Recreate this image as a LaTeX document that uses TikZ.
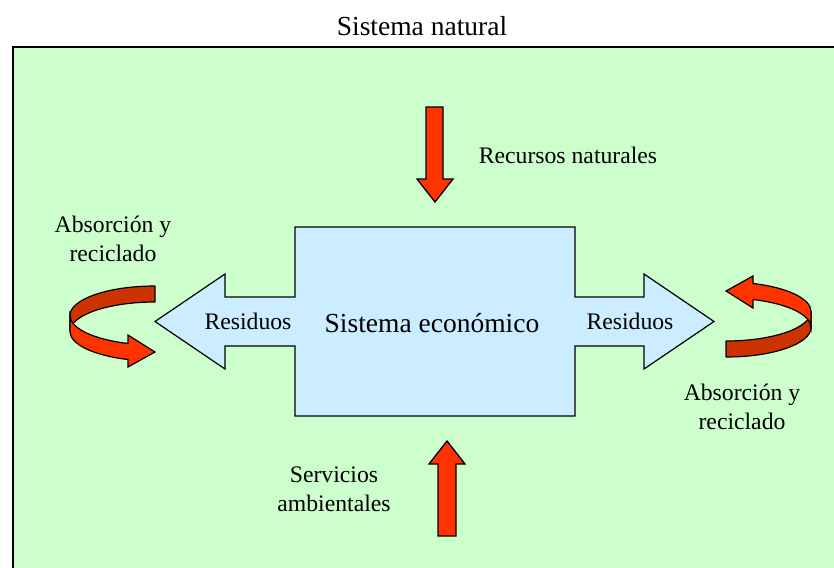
\documentclass[tikz,border=0pt]{standalone}
\usepackage{fontspec}
\setmainfont{Liberation Serif}
\begin{document}
\definecolor{naturegreen}{HTML}{CCFFCC}
\definecolor{economyblue}{HTML}{CCECFF}
\definecolor{flowred}{HTML}{FF3300}
\definecolor{flowdark}{HTML}{CC3300}
\begin{tikzpicture}[x=1pt,y=1pt,
  blockarrow/.style={fill=flowred,draw=black,line width=1.3pt,line join=miter},
  ringback/.style={fill=flowdark,draw=black,line width=1.2pt,line join=round},
  ringfront/.style={fill=flowred,draw=black,line width=1.2pt,line join=miter},
  biglabel/.style={font=\fontsize{27.5}{33}\selectfont,inner sep=0pt},
  label/.style={font=\fontsize{23.7}{29}\selectfont,inner sep=0pt,align=center},
  pics/cycle/.style={code={
    % inner face of the ribbon, behind
    \path[ringback] (0,33) arc[start angle=90,end angle=180,x radius=85,y radius=29.5]
      -- ++(0,-16) arc[start angle=180,end angle=90,x radius=85,y radius=29.5] -- cycle;
    % outer face of the ribbon, in front, ending in the arrow head
    \path[ringfront] (-85,3.5) arc[start angle=180,end angle=251.5,x radius=85,y radius=29.5]
      -- (-27,-16) -- (0,-33) -- (-27,-48) -- (-27,-40.5)
      arc[start angle=251.5,end angle=180,x radius=85,y radius=29.5] -- cycle;
  }}]
\useasboundingbox (0,0) rectangle (834,-567);
\clip (0,0) rectangle (834,-567);

% the natural system
\path[fill=naturegreen,draw=black,line width=1.7pt] (13,-47) rectangle (850,-590);
\node[biglabel] (natural) at (422,-26) {Sistema natural};

% the economic system with its two outgoing residue arrows
\path[fill=economyblue,draw=black,line width=1.2pt,line join=miter]
  (295,-227) -- (575,-227) -- (575,-297) -- (644,-297) -- (644,-274) -- (714,-321.5)
  -- (644,-369) -- (644,-346) -- (575,-346) -- (575,-416) -- (295,-416) -- (295,-346)
  -- (225,-346) -- (225,-369) -- (155,-321.5) -- (225,-274) -- (225,-297) -- (295,-297) -- cycle;
\node[biglabel] (economy) at (432,-323) {Sistema económico};
\node[label] (resleft) at (248,-321) {Residuos};
\node[label] (resright) at (630,-321) {Residuos};

% natural resources coming in from above
\path[blockarrow] (426,-107) -- (443,-107) -- (443,-179) -- (453,-179) -- (435,-202)
  -- (417,-179) -- (426,-179) -- cycle;
\node[label] (resources) at (568,-155) {Recursos naturales};

% environmental services coming in from below
\path[blockarrow] (438,-536) -- (456,-536) -- (456,-464) -- (465,-464) -- (447,-441)
  -- (429,-464) -- (438,-464) -- cycle;
\node[label] (services) at (334,-489) {Servicios\\ambientales};

% absorption and recycling loops
\pic at (155,-319) {cycle};
\pic[rotate=180] at (726,-324) {cycle};
\node[label] (absleft) at (113,-239) {Absorción y\\reciclado};
\node[label] (absright) at (742,-407) {Absorción y\\reciclado};
\end{tikzpicture}
\end{document}
